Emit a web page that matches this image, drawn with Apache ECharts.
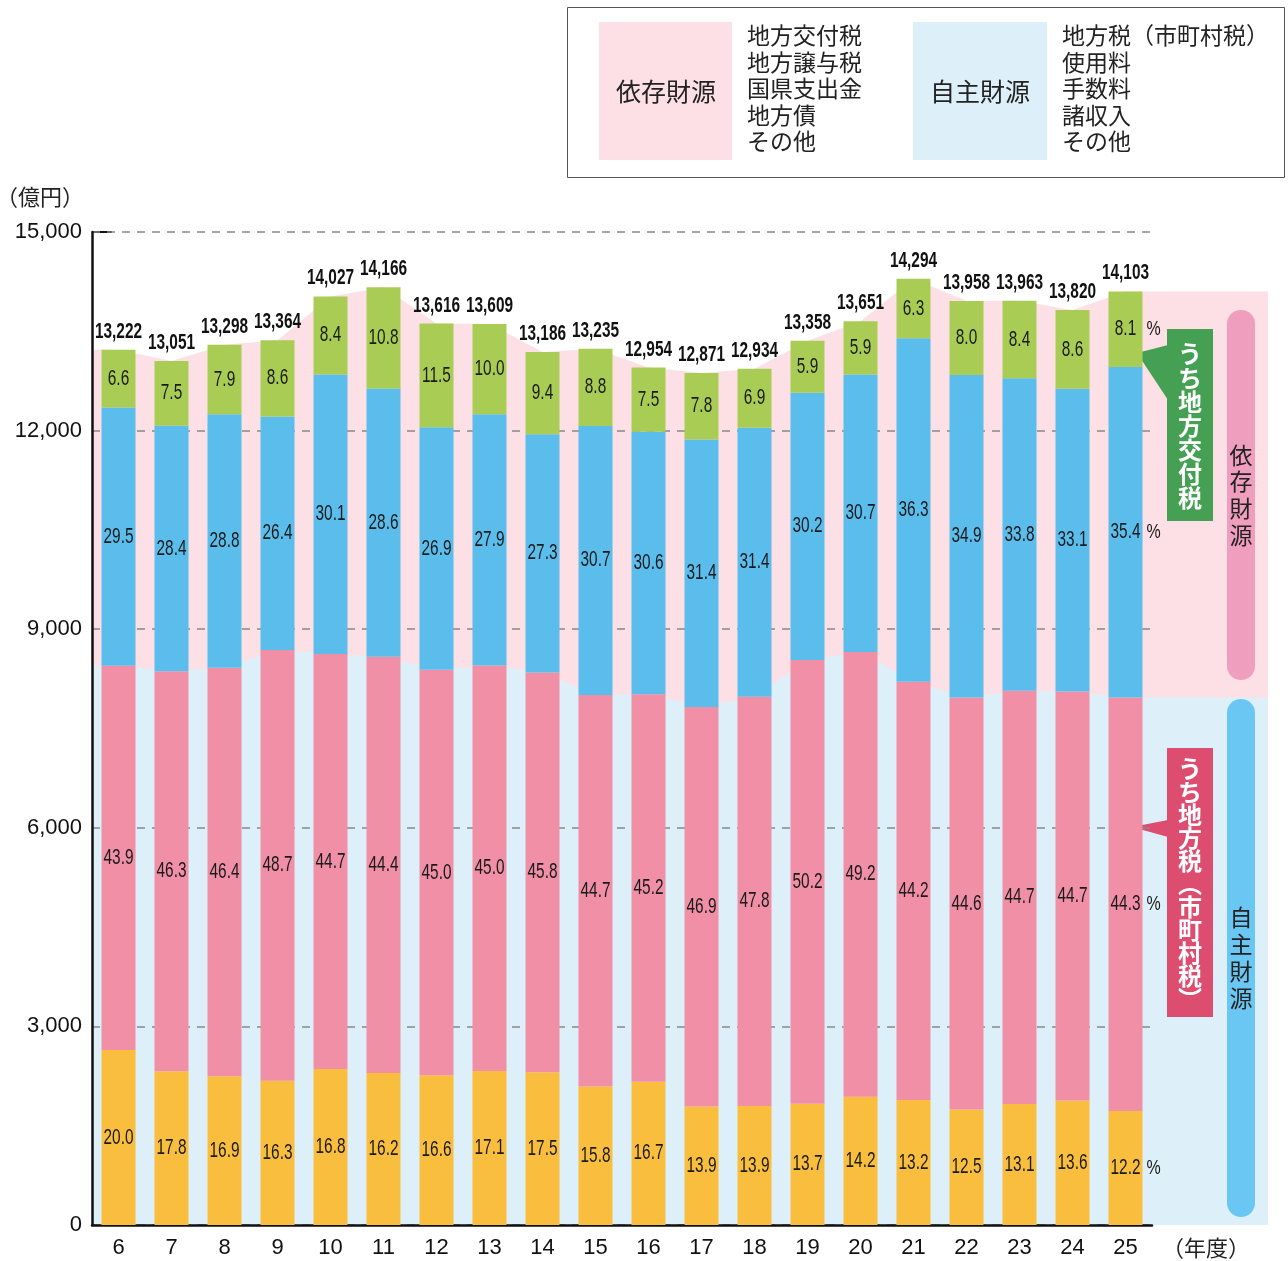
<!DOCTYPE html>
<html>
<head>
<meta charset="utf-8">
<script src="https://cdn.jsdelivr.net/npm/echarts@6/dist/echarts.min.js"></script>
<style>
html, body { margin: 0; padding: 0; background: #fff; }
#chart { width: 1288px; height: 1261px; }
</style>
</head>
<body>
<div id="chart"></div>
<script>
// 年度
const years = ['6', '7', '8', '9', '10', '11', '12', '13', '14', '15', '16', '17', '18', '19', '20', '21', '22', '23', '24', '25'];
// 歳入総額（億円）
const totals = [13222, 13051, 13298, 13364, 14027, 14166, 13616, 13609, 13186, 13235, 12954, 12871, 12934, 13358, 13651, 14294, 13958, 13963, 13820, 14103];
// 構成比（%）下から順に
const pctSelfOther = [20.0, 17.8, 16.9, 16.3, 16.8, 16.2, 16.6, 17.1, 17.5, 15.8, 16.7, 13.9, 13.9, 13.7, 14.2, 13.2, 12.5, 13.1, 13.6, 12.2];
const pctLocalTax = [43.9, 46.3, 46.4, 48.7, 44.7, 44.4, 45.0, 45.0, 45.8, 44.7, 45.2, 46.9, 47.8, 50.2, 49.2, 44.2, 44.6, 44.7, 44.7, 44.3];
const pctDepOther = [29.5, 28.4, 28.8, 26.4, 30.1, 28.6, 26.9, 27.9, 27.3, 30.7, 30.6, 31.4, 31.4, 30.2, 30.7, 36.3, 34.9, 33.8, 33.1, 35.4];
const pctKofu = [6.6, 7.5, 7.9, 8.6, 8.4, 10.8, 11.5, 10.0, 9.4, 8.8, 7.5, 7.8, 6.9, 5.9, 5.9, 6.3, 8.0, 8.4, 8.6, 8.1];

const SANS = "'Liberation Sans', Arial, sans-serif";
const CJK = "'Noto Sans CJK JP', sans-serif";
// 数字ラベルは細身の書体なので横方向に縮める
const CONDENSE = 0.7;

const last = years.length - 1;
// 背景の帯を右端(1268px)まで延ばすための値軸の上限
const BG_MAX = -0.5 + (1268 - 92) / 53;

function amount(pcts) {
    return pcts.map((p, i) => p * totals[i] / 100);
}
// 自主財源（地方税＋その他）
const selfTotal = totals.map((t, i) => (pctSelfOther[i] + pctLocalTax[i]) * t / 100);

function bgPoints(vals) {
    const pts = [[-0.5, vals[0]]];
    vals.forEach((v, i) => pts.push([i, v]));
    pts.push([BG_MAX, vals[last]]);
    return pts;
}

// 各区分の中央に置く構成比ラベル [年度index, 中央の金額, 構成比, 最終年度か]
const segLabels = [];
(function () {
    const cum = totals.map(() => 0);
    [pctSelfOther, pctLocalTax, pctDepOther, pctKofu].forEach(pcts => {
        pcts.forEach((p, i) => {
            segLabels.push([i, (cum[i] + p / 2) * totals[i] / 100, p, i === last ? 1 : 0]);
            cum[i] += p;
        });
    });
})();

function barSeries(name, pcts, color) {
    return {
        name: name,
        type: 'bar',
        stack: 'rev',
        barWidth: 34,
        itemStyle: { color: color },
        data: amount(pcts)
    };
}

function vText(str, x, y, lh, size, weight, fill) {
    return {
        type: 'text',
        style: {
            text: str.split('').join('\n'),
            x: x, y: y,
            align: 'center', verticalAlign: 'middle',
            lineHeight: lh,
            fontSize: size, fontWeight: weight, fontFamily: CJK,
            fill: fill
        }
    };
}

const chart = echarts.init(document.getElementById('chart'));
chart.setOption({
    animation: false,
    grid: [
        { left: 92, right: 136, top: 232, bottom: 36 },
        { left: 92, right: 20, top: 232, bottom: 36 }
    ],
    xAxis: [
        {
            type: 'category',
            gridIndex: 0,
            data: years,
            axisLine: { lineStyle: { color: '#111', width: 2.5 } },
            axisTick: { inside: true, length: 24, lineStyle: { color: '#111', width: 1.5 } },
            axisLabel: { fontSize: 22, fontFamily: SANS, color: '#111', margin: 12 }
        },
        { type: 'value', gridIndex: 1, min: -0.5, max: BG_MAX, show: false }
    ],
    yAxis: [
        {
            type: 'value',
            gridIndex: 0,
            min: 0,
            max: 15000,
            interval: 3000,
            axisLine: { show: true, lineStyle: { color: '#111', width: 2.5 } },
            axisTick: { show: false },
            splitLine: { lineStyle: { color: '#888', type: [8, 7], width: 1.5 } },
            axisLabel: {
                fontSize: 22, fontFamily: SANS, color: '#111', margin: 10,
                formatter: v => v.toLocaleString('en-US')
            }
        },
        { type: 'value', gridIndex: 1, min: 0, max: 15000, show: false }
    ],
    series: [
        {
            name: '依存財源',
            type: 'line',
            xAxisIndex: 1, yAxisIndex: 1,
            data: bgPoints(totals),
            symbol: 'none',
            silent: true,
            z: -2,
            lineStyle: { width: 0, opacity: 0 },
            areaStyle: { color: '#fde0e6', opacity: 1 }
        },
        {
            name: '自主財源',
            type: 'line',
            xAxisIndex: 1, yAxisIndex: 1,
            data: bgPoints(selfTotal),
            symbol: 'none',
            silent: true,
            z: -1,
            lineStyle: { width: 0, opacity: 0 },
            areaStyle: { color: '#ddf0fa', opacity: 1 }
        },
        barSeries('その他自主財源', pctSelfOther, '#f9be3d'),
        barSeries('地方税', pctLocalTax, '#f08fa6'),
        barSeries('その他依存財源', pctDepOther, '#5bbdec'),
        barSeries('地方交付税', pctKofu, '#a9cd54'),
        {
            name: '構成比',
            type: 'custom',
            silent: true,
            z: 5,
            encode: { x: 0, y: 1 },
            data: segLabels,
            renderItem: function (params, api) {
                const pt = api.coord([api.value(0), api.value(1)]);
                const num = {
                    type: 'text',
                    x: pt[0], y: pt[1], scaleX: CONDENSE,
                    style: {
                        text: api.value(2).toFixed(1),
                        fontSize: 22, fontFamily: SANS, fill: '#1a1a1a',
                        align: 'center', verticalAlign: 'middle'
                    }
                };
                if (!api.value(3)) return num;
                return {
                    type: 'group',
                    children: [num, {
                        type: 'text',
                        x: pt[0] + 21, y: pt[1], scaleX: 0.8,
                        style: {
                            text: '%', fontSize: 20, fontFamily: SANS, fill: '#1a1a1a',
                            align: 'left', verticalAlign: 'middle'
                        }
                    }]
                };
            }
        },
        {
            name: '総額',
            type: 'custom',
            silent: true,
            z: 5,
            data: totals.map((t, i) => [i, t]),
            encode: { x: 0, y: 1 },
            renderItem: function (params, api) {
                const pt = api.coord([api.value(0), api.value(1)]);
                return {
                    type: 'text',
                    x: pt[0], y: pt[1] - 18, scaleX: CONDENSE,
                    style: {
                        text: totals[params.dataIndex].toLocaleString('en-US'),
                        fontSize: 22, fontWeight: 'bold', fontFamily: SANS, fill: '#111',
                        align: 'center', verticalAlign: 'middle'
                    }
                };
            }
        }
    ],
    graphic: [
        // 凡例
        { type: 'rect', shape: { x: 567.5, y: 7.5, width: 717, height: 170 }, style: { fill: '#fff', stroke: '#555', lineWidth: 1 } },
        { type: 'rect', shape: { x: 599, y: 22, width: 133, height: 138 }, style: { fill: '#fde0e6' } },
        { type: 'text', style: { text: '依存財源', x: 666, y: 91, align: 'center', verticalAlign: 'middle', fontSize: 25, fontFamily: CJK, fill: '#222' } },
        { type: 'text', style: { text: '地方交付税\n地方譲与税\n国県支出金\n地方債\nその他', x: 747, y: 22.5, align: 'left', verticalAlign: 'top', lineHeight: 26.5, fontSize: 23, fontFamily: CJK, fill: '#222' } },
        { type: 'rect', shape: { x: 913, y: 22, width: 134, height: 138 }, style: { fill: '#ddf0fa' } },
        { type: 'text', style: { text: '自主財源', x: 980, y: 91, align: 'center', verticalAlign: 'middle', fontSize: 25, fontFamily: CJK, fill: '#222' } },
        { type: 'text', style: { text: '地方税（市町村税）\n使用料\n手数料\n諸収入\nその他', x: 1062, y: 22.5, align: 'left', verticalAlign: 'top', lineHeight: 26.5, fontSize: 23, fontFamily: CJK, fill: '#222' } },
        // 単位
        { type: 'text', style: { text: '（億円）', x: -4, y: 197, align: 'left', verticalAlign: 'middle', fontSize: 22, fontFamily: CJK, fill: '#222' } },
        { type: 'text', style: { text: '（年度）', x: 1206, y: 1248, align: 'center', verticalAlign: 'middle', fontSize: 22, fontFamily: CJK, fill: '#222' } },
        // 15,000 の目盛り
        { type: 'line', shape: { x1: 92, y1: 232, x2: 112, y2: 232 }, style: { stroke: '#111', lineWidth: 2 } },
        // 右側の説明
        { type: 'rect', shape: { x: 1227, y: 310, width: 28, height: 370, r: 14 }, style: { fill: '#f09ebd' } },
        vText('依存財源', 1241, 495, 26.7, 23, 'normal', '#222'),
        { type: 'rect', shape: { x: 1227, y: 699, width: 28, height: 518, r: 14 }, style: { fill: '#6ac6f2' } },
        vText('自主財源', 1241, 958, 27, 23, 'normal', '#222'),
        { type: 'polygon', shape: { points: [[1137, 353], [1168, 345], [1168, 400]] }, style: { fill: '#46a054' } },
        { type: 'rect', shape: { x: 1167, y: 329, width: 46, height: 192 }, style: { fill: '#46a054' } },
        vText('うち地方交付税', 1190, 426, 24, 24, 'bold', '#fff'),
        { type: 'polygon', shape: { points: [[1132, 827], [1168, 820], [1168, 837]] }, style: { fill: '#dc4d70' } },
        { type: 'rect', shape: { x: 1167, y: 748, width: 46, height: 269 }, style: { fill: '#dc4d70' } },
        vText('うち地方税︵市町村税︶', 1190, 884, 23, 24, 'bold', '#fff')
    ]
});
</script>
</body>
</html>
